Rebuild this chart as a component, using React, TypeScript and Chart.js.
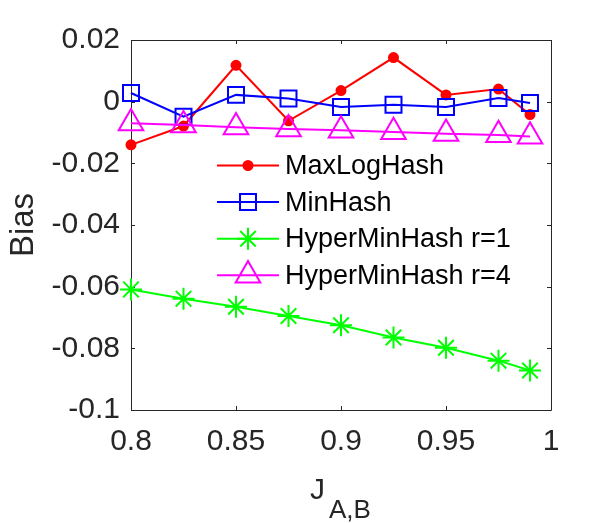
import { useEffect, useRef } from 'react';
import { Chart, registerables } from 'chart.js';
import { drawPoint } from 'chart.js/helpers';

Chart.register(...registerables);

// Jaccard similarity values on the x axis
const jValues = [0.8, 0.825, 0.85, 0.875, 0.9, 0.925, 0.95, 0.975, 0.99];

// Bias of each estimator
const maxLogHash = [-0.014, -0.0079, 0.0118, -0.0062, 0.0036, 0.0143, 0.0022, 0.0041, -0.0042];
const minHash = [0.0028, -0.0049, 0.0022, 0.001, -0.0017, -0.001, -0.0017, 0.0012, -0.0004];
const hyperMinHashR1 = [-0.0609, -0.0639, -0.0665, -0.0695, -0.0725, -0.0765, -0.0798, -0.084, -0.0872];
const hyperMinHashR4 = [-0.007, -0.0076, -0.0083, -0.0089, -0.0093, -0.0098, -0.0104, -0.0108, -0.0113];

const seriesNames = ['MaxLogHash', 'MinHash', 'HyperMinHash r=1', 'HyperMinHash r=4'];

const xTicks = [0.8, 0.85, 0.9, 0.95, 1];
const xTickLabels = ['0.8', '0.85', '0.9', '0.95', '1'];
const yTicks = [-0.1, -0.08, -0.06, -0.04, -0.02, 0, 0.02];
const yTickLabels = ['-0.1', '-0.08', '-0.06', '-0.04', '-0.02', '0', '0.02'];

const FONT = "'Liberation Sans', Arial, Helvetica, sans-serif";
const AXIS_COLOR = '#262626';

const toPoints = (ys: number[]) => ys.map((y, i) => ({ x: jValues[i], y }));

// Box around the axes with inward tick marks on all four sides
const framePlugin = {
  id: 'matlabFrame',
  beforeDatasetsDraw(chart: any) {
    const { ctx, chartArea, scales } = chart;
    const { left, right, top, bottom } = chartArea;
    const tl = 4;
    ctx.save();
    ctx.strokeStyle = AXIS_COLOR;
    ctx.lineWidth = 1;
    ctx.beginPath();
    ctx.rect(Math.round(left) + 0.5, Math.round(top) + 0.5, Math.round(right - left), Math.round(bottom - top));
    xTicks.forEach((v) => {
      const px = Math.round(scales.x.getPixelForValue(v)) + 0.5;
      ctx.moveTo(px, bottom);
      ctx.lineTo(px, bottom - tl);
      ctx.moveTo(px, top);
      ctx.lineTo(px, top + tl);
    });
    yTicks.forEach((v) => {
      const py = Math.round(scales.y.getPixelForValue(v)) + 0.5;
      ctx.moveTo(left, py);
      ctx.lineTo(left + tl, py);
      ctx.moveTo(right, py);
      ctx.lineTo(right - tl, py);
    });
    ctx.stroke();
    ctx.restore();
  },
};

// Legend inside the axes, plus the x-axis label with its subscript
const annotationsPlugin = {
  id: 'legendAndXLabel',
  afterDraw(chart: any) {
    const { ctx, chartArea } = chart;
    const { left, top } = chartArea;
    ctx.save();

    const lineX0 = left + 86;
    const lineX1 = left + 148;
    const markerX = (lineX0 + lineX1) / 2;
    const textX = left + 154;
    const rowY0 = top + 125.5;
    const rowStep = 36.6;

    chart.data.datasets.forEach((ds: any, i: number) => {
      const y = rowY0 + i * rowStep;
      ctx.strokeStyle = ds.borderColor;
      ctx.lineWidth = ds.borderWidth;
      ctx.beginPath();
      ctx.moveTo(lineX0, y);
      ctx.lineTo(lineX1, y);
      ctx.stroke();

      ctx.fillStyle = ds.pointBackgroundColor;
      ctx.strokeStyle = ds.pointBorderColor;
      ctx.lineWidth = ds.pointBorderWidth;
      drawPoint(ctx, { pointStyle: ds.pointStyle, rotation: 0, radius: ds.pointRadius, borderWidth: ds.pointBorderWidth }, markerX, y);

      ctx.fillStyle = '#000000';
      ctx.font = `27px ${FONT}`;
      ctx.textAlign = 'left';
      ctx.textBaseline = 'middle';
      ctx.fillText(ds.label, textX, y + 1);
    });

    // x-axis label J_{A,B}
    ctx.fillStyle = AXIS_COLOR;
    ctx.textAlign = 'left';
    ctx.textBaseline = 'alphabetic';
    ctx.font = `30px ${FONT}`;
    ctx.fillText('J', 310, 499);
    ctx.font = `26px ${FONT}`;
    ctx.fillText('A,B', 329, 518);

    ctx.restore();
  },
};

export default function App() {
  const canvasRef = useRef<HTMLCanvasElement | null>(null);

  useEffect(() => {
    const canvas = canvasRef.current;
    if (!canvas) return;

    const makeDataset = (label: string, values: number[], color: string, pointStyle: string, radius: number, filled: boolean, order: number) => ({
      label,
      data: toPoints(values),
      borderColor: color,
      backgroundColor: color,
      borderWidth: 2,
      pointStyle,
      pointRadius: radius,
      pointHoverRadius: radius,
      pointBorderColor: color,
      pointBackgroundColor: filled ? color : 'rgba(0,0,0,0)',
      pointBorderWidth: 2,
      tension: 0,
      fill: false,
      clip: false as any,
      order,
    });

    const chart = new Chart(canvas, {
      type: 'line',
      data: {
        datasets: [
          makeDataset(seriesNames[0], maxLogHash, '#ff0000', 'circle', 4.5, true, 4),
          makeDataset(seriesNames[1], minHash, '#0000ff', 'rect', 11.3, false, 3),
          makeDataset(seriesNames[2], hyperMinHashR1, '#00ff00', 'star', 11, false, 2),
          makeDataset(seriesNames[3], hyperMinHashR4, '#ff00ff', 'triangle', 14.2, false, 1),
        ] as any,
      },
      options: {
        animation: false,
        responsive: true,
        maintainAspectRatio: false,
        layout: { padding: { top: 40, right: 60, left: 0, bottom: 0 } },
        plugins: {
          legend: { display: false },
          tooltip: { enabled: false },
        },
        scales: {
          x: {
            type: 'linear',
            min: 0.8,
            max: 1,
            grid: { display: false, drawTicks: false },
            border: { display: false },
            afterBuildTicks: (scale: any) => {
              scale.ticks = xTicks.map((v) => ({ value: v }));
            },
            afterFit: (scale: any) => {
              scale.height = 113;
            },
            ticks: {
              autoSkip: false,
              maxRotation: 0,
              padding: 14,
              color: AXIS_COLOR,
              font: { family: FONT, size: 30 },
              callback: (value: any) => {
                const idx = xTicks.findIndex((t) => Math.abs(t - Number(value)) < 1e-9);
                return idx >= 0 ? xTickLabels[idx] : '';
              },
            },
          },
          y: {
            type: 'linear',
            min: -0.1,
            max: 0.02,
            grid: { display: false, drawTicks: false },
            border: { display: false },
            afterBuildTicks: (scale: any) => {
              scale.ticks = yTicks.map((v) => ({ value: v }));
            },
            afterFit: (scale: any) => {
              scale.width = 131;
            },
            title: {
              display: true,
              text: 'Bias',
              color: AXIS_COLOR,
              font: { family: FONT, size: 33 },
              padding: { top: 4, bottom: 0 },
            },
            ticks: {
              autoSkip: false,
              padding: 11,
              color: AXIS_COLOR,
              font: { family: FONT, size: 30 },
              callback: (value: any) => {
                const idx = yTicks.findIndex((t) => Math.abs(t - Number(value)) < 1e-9);
                return idx >= 0 ? yTickLabels[idx] : '';
              },
            },
          },
        },
      },
      plugins: [framePlugin, annotationsPlugin],
    });

    return () => chart.destroy();
  }, []);

  return (
    <div style={{ position: 'absolute', left: 0, top: 0, width: 611, height: 523, background: '#ffffff' }}>
      <canvas ref={canvasRef} />
    </div>
  );
}
